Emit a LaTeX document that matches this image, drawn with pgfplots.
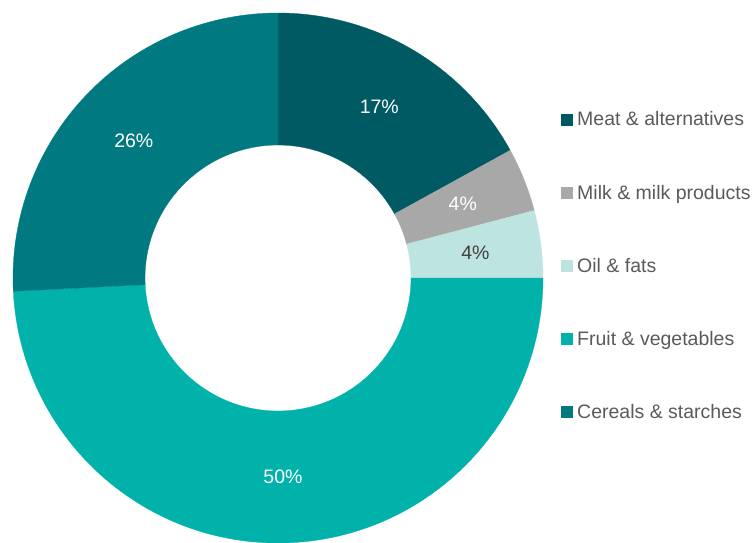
\documentclass[border=0pt]{standalone}
\usepackage{pgfplots}
\pgfplotsset{compat=1.18}
\usepackage{pgfplotstable}
\usepackage{fontspec}
\setmainfont{Liberation Sans}

\definecolor{cMeat}{RGB}{0,90,100}
\definecolor{cMilk}{RGB}{168,168,168}
\definecolor{cOil}{RGB}{190,228,225}
\definecolor{cFruit}{RGB}{0,178,170}
\definecolor{cCereal}{RGB}{0,122,128}
\definecolor{txtgray}{RGB}{90,90,90}
\definecolor{lbldark}{RGB}{64,64,64}
\newcommand\chartfont{\fontsize{19.5}{23}\selectfont}

% shares in percent, clockwise from 12 o'clock
\pgfplotstableread{
value label col lcol
17.0 17 cMeat white
3.9 4 cMilk white
4.1 4 cOil lbldark
49.2 50 cFruit white
25.8 26 cCereal white
}\shares

\begin{document}
\begin{tikzpicture}
\begin{axis}[
  x=1pt, y=1pt,
  xmin=0, xmax=755, ymin=0, ymax=542,
  hide axis, scale only axis, clip=true,
]
\def\cx{278}\def\cy{264}
\def\startang{90}
\pgfplotsforeachungrouped \i in {0,...,4}{%
  \pgfplotstablegetelem{\i}{value}\of\shares \let\val\pgfplotsretval
  \pgfplotstablegetelem{\i}{label}\of\shares \let\lab\pgfplotsretval
  \pgfplotstablegetelem{\i}{col}\of\shares \let\col\pgfplotsretval
  \pgfplotstablegetelem{\i}{lcol}\of\shares \let\lcol\pgfplotsretval
  \pgfmathsetmacro\endang{\startang-3.6*\val}
  \pgfmathsetmacro\midang{(\startang+\endang)/2}
  \edef\temp{%
    \noexpand\fill[\col, draw=\col, line width=0.3pt] (axis cs:\cx,\cy) ++(\startang:265pt)
      arc[start angle=\startang, end angle=\endang, radius=265pt]
      -- ++(\endang:-132pt)
      arc[start angle=\endang, end angle=\startang, radius=133pt] -- cycle;
    \noexpand\node[text=\lcol, font=\noexpand\chartfont, shift={(\midang:199pt)}]
      at (axis cs:\cx,\cy) {\lab\noexpand\%};
  }%
  \temp
  \let\startang\endang
}

% legend
\fill[cMeat]   (axis cs:561,416) rectangle (axis cs:573,428);
\fill[cMilk]   (axis cs:561,343) rectangle (axis cs:573,355);
\fill[cOil]    (axis cs:561,270) rectangle (axis cs:573,282);
\fill[cFruit]  (axis cs:561,197) rectangle (axis cs:573,209);
\fill[cCereal] (axis cs:561,124) rectangle (axis cs:573,136);
\node[anchor=base west, text=txtgray, font=\chartfont, inner sep=0pt] at (axis cs:577,416) {Meat \& alternatives};
\node[anchor=base west, text=txtgray, font=\chartfont, inner sep=0pt] at (axis cs:577,343) {Milk \& milk products};
\node[anchor=base west, text=txtgray, font=\chartfont, inner sep=0pt] at (axis cs:577,270) {Oil \& fats};
\node[anchor=base west, text=txtgray, font=\chartfont, inner sep=0pt] at (axis cs:577,197) {Fruit \& vegetables};
\node[anchor=base west, text=txtgray, font=\chartfont, inner sep=0pt] at (axis cs:577,124) {Cereals \& starches};
\end{axis}
\pgfresetboundingbox
\path (current axis.south west) rectangle (current axis.north east);
\end{tikzpicture}
\end{document}
